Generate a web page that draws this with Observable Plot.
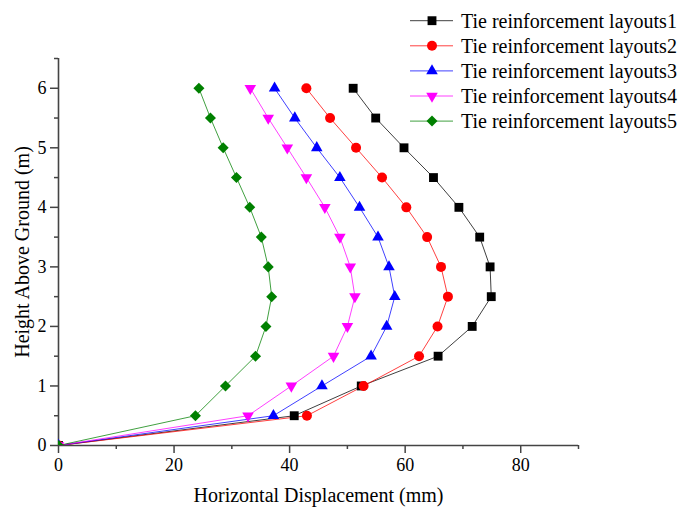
<!DOCTYPE html>
<html><head><meta charset="utf-8">
<script src="https://cdn.jsdelivr.net/npm/d3@7"></script>
<script src="https://cdn.jsdelivr.net/npm/@observablehq/plot@0.6"></script>
<style>
body{margin:0;background:#fff;}
#wrap{position:relative;width:678px;height:508px;}
#legend{position:absolute;left:400px;top:0px;}
</style></head><body><div id="wrap"></div>
<script>
const heights = [0, 0.5, 1, 1.5, 2, 2.5, 3, 3.5, 4, 4.5, 5, 5.5, 6];
const layout1 = [0, 40.8, 52.4, 65.7, 71.6, 74.9, 74.7, 72.9, 69.3, 64.9, 59.8, 54.9, 51.0];
const layout2 = [0, 43.0, 52.8, 62.4, 65.6, 67.4, 66.2, 63.8, 60.2, 56.0, 51.5, 47.0, 42.9];
const layout3 = [0, 37.2, 45.6, 54.1, 56.8, 58.2, 57.2, 55.3, 52.1, 48.7, 44.7, 40.9, 37.4];
const layout4 = [0, 32.8, 40.3, 47.6, 50.0, 51.3, 50.5, 48.7, 46.1, 42.9, 39.6, 36.3, 33.2];
const layout5 = [0, 23.7, 28.9, 34.1, 35.9, 36.9, 36.3, 35.1, 33.1, 30.8, 28.5, 26.3, 24.3];
const seriesNames = ["Tie reinforcement layouts1","Tie reinforcement layouts2","Tie reinforcement layouts3","Tie reinforcement layouts4","Tie reinforcement layouts5"];
const colors = ["#000000","#ff0000","#0000ff","#ff00ff","#008000"];
const xTicks = [0, 20, 40, 60, 80];
const xMinor = [10, 30, 50, 70, 90];
const yTicks = [0, 1, 2, 3, 4, 5, 6];
const yMinor = [0.5, 1.5, 2.5, 3.5, 4.5, 5.5, 6.5];
const xTitle = "Horizontal Displacement (mm)";
const yTitle = "Height Above Ground (m)";

const allSeries = [layout1, layout2, layout3, layout4, layout5];

const invTriangle = {draw(ctx, size){
  const s = Math.sqrt(size * 4 / Math.sqrt(3)); const h = s * Math.sqrt(3) / 2;
  ctx.moveTo(0, h * 2 / 3); ctx.lineTo(s / 2, -h / 3); ctx.lineTo(-s / 2, -h / 3); ctx.closePath();
}};
const diamondSq = {draw(ctx, size){
  const hd = Math.sqrt(size) / Math.SQRT2;
  ctx.moveTo(0, -hd); ctx.lineTo(hd, 0); ctx.lineTo(0, hd); ctx.lineTo(-hd, 0); ctx.closePath();
}};
const symbols = [d3.symbolSquare, d3.symbolCircle, d3.symbolTriangle, invTriangle, diamondSq];
const radii = [5, 5, 4.3, 4.3, 4.4];

const data = allSeries.flatMap((vals, i) => vals.map((x, j) => ({series: seriesNames[i], idx: i, x, y: heights[j]})));

const font = "Liberation Serif";
const axisColor = "#444";
const fmt = d => String(d);

const marks = [
  Plot.axisX(xMinor, {tickSize: 4, tickFormat: () => "", stroke: axisColor, strokeWidth: 1.5, label: null}),
  Plot.axisX(xTicks, {tickSize: 8, tickPadding: 5, tickFormat: fmt, stroke: axisColor, strokeWidth: 1.5, fill: "#000",
    fontSize: 18, fontFamily: font, label: null}),
  Plot.axisY(yMinor, {tickSize: 4, tickFormat: () => "", stroke: axisColor, strokeWidth: 1.5, label: null}),
  Plot.axisY(yTicks, {tickSize: 8, tickPadding: 4, tickFormat: fmt, stroke: axisColor, strokeWidth: 1.5, fill: "#000",
    fontSize: 18, fontFamily: font, label: null}),
  Plot.ruleY([0], {stroke: axisColor, strokeWidth: 1.6}),
  Plot.ruleX([0], {stroke: axisColor, strokeWidth: 1.6}),
  Plot.text([xTitle], {text: d => d, frameAnchor: "bottom", dy: 50, textAnchor: "middle", lineAnchor: "middle",
    fontSize: 20, fontFamily: font, fill: "#000"}),
  Plot.text([yTitle], {text: d => d, frameAnchor: "left", dx: -36, rotate: -90, textAnchor: "middle", lineAnchor: "middle",
    fontSize: 20, fontFamily: font, fill: "#000"})
];
seriesNames.forEach((name, i) => {
  const d = data.filter(p => p.idx === i);
  marks.push(Plot.line(d, {x: "x", y: "y", stroke: colors[i], strokeWidth: 1, strokeOpacity: 0.75, clip: true}));
});
seriesNames.forEach((name, i) => {
  const d = data.filter(p => p.idx === i);
  marks.push(Plot.dot(d, {x: "x", y: "y", fill: colors[i], stroke: "none", symbol: symbols[i], r: radii[i], clip: true}));
});

const chart = Plot.plot({
  width: 678, height: 508,
  marginLeft: 58, marginRight: 100, marginTop: 58, marginBottom: 63,
  x: {domain: [0, 90]},
  y: {domain: [0, 6.5]},
  style: {fontFamily: font, fontSize: "18px", color: "#000", background: "#fff"},
  marks
});
const wrap = document.getElementById("wrap");
wrap.appendChild(chart);

// legend
const lg = d3.select(wrap).append("svg").attr("id", "legend").attr("width", 278).attr("height", 135);
seriesNames.forEach((name, i) => {
  const cy = 20.7 + i * 25.1;
  const g = lg.append("g");
  g.append("line").attr("x1", 10).attr("x2", 53).attr("y1", cy).attr("y2", cy)
    .attr("stroke", colors[i]).attr("stroke-width", 1).attr("stroke-opacity", 0.75);
  g.append("path").attr("d", d3.symbol(symbols[i], Math.PI * radii[i] * radii[i])())
    .attr("transform", `translate(32,${cy})`).attr("fill", colors[i]);
  g.append("text").attr("x", 61).attr("y", cy).attr("dy", "0.35em")
    .attr("font-family", font).attr("font-size", 20).attr("fill", "#000").text(name);
});
</script></body></html>
